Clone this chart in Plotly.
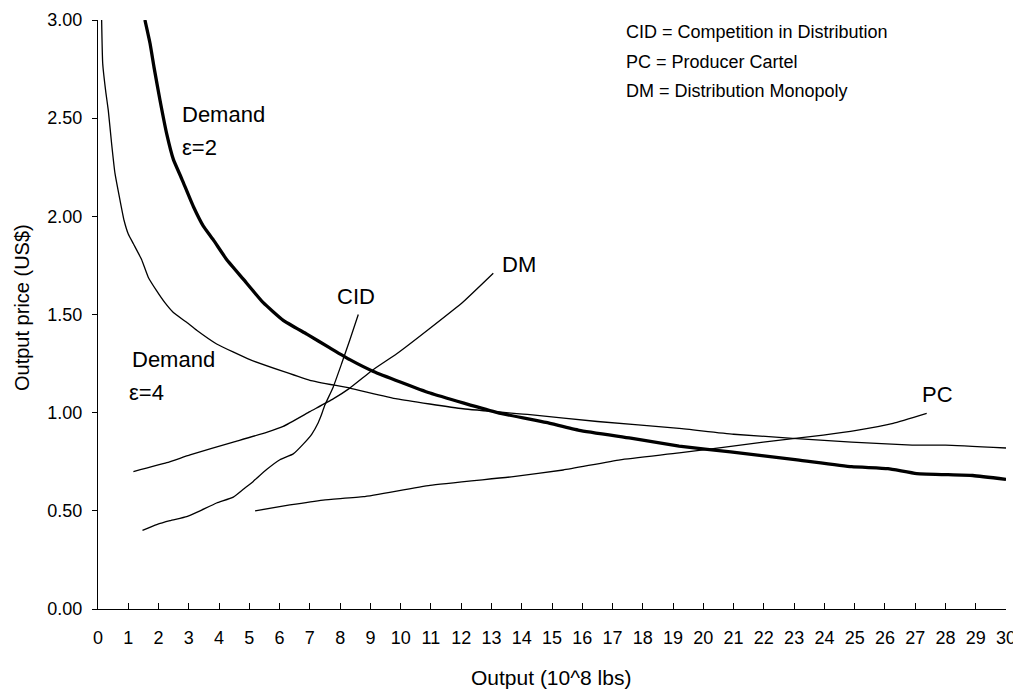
import plotly.graph_objects as go

# Demand, elasticity 2 (thick)
d2_x = [1.55, 1.72, 1.85, 2.05, 2.27, 2.49, 2.77, 3.15, 3.48, 3.81, 4.25, 4.8, 5.46, 6.12, 6.9, 7.66, 8.32, 9.1, 10.97, 13.2, 14.8, 15.9, 17.6, 19.2, 20.9, 23.1, 24.9, 26.1, 27.05, 28.9, 30.0]
d2_y = [3.00, 2.88, 2.76, 2.59, 2.42, 2.29, 2.19, 2.05, 1.95, 1.88, 1.78, 1.68, 1.56, 1.47, 1.40, 1.33, 1.27, 1.21, 1.10, 1.00, 0.95, 0.91, 0.87, 0.83, 0.80, 0.76, 0.725, 0.715, 0.69, 0.68, 0.66]

# Demand, elasticity 4 (thin)
d4_x = [0.12, 0.155, 0.26, 0.34, 0.45, 0.56, 0.73, 0.86, 1.0, 1.17, 1.44, 1.66, 1.94, 2.21, 2.49, 2.93, 3.26, 3.92, 5.02, 6.12, 7.0, 8.32, 9.88, 12.06, 14.27, 16.5, 19.2, 21.0, 24.9, 26.9, 28.0, 30.0]
d4_y = [3.00, 2.78, 2.63, 2.54, 2.37, 2.22, 2.08, 1.98, 1.91, 1.86, 1.78, 1.69, 1.62, 1.56, 1.51, 1.46, 1.42, 1.35, 1.27, 1.21, 1.165, 1.125, 1.07, 1.02, 0.99, 0.955, 0.92, 0.89, 0.85, 0.835, 0.835, 0.82]

# Competition in Distribution
cid_x = [1.47, 1.94, 2.38, 2.93, 3.37, 3.92, 4.47, 4.8, 5.13, 5.57, 6.01, 6.45, 6.78, 7.06, 7.28, 7.36, 7.5, 7.77, 8.05, 8.32, 8.6]
cid_y = [0.40, 0.43, 0.45, 0.47, 0.50, 0.54, 0.57, 0.61, 0.65, 0.71, 0.76, 0.79, 0.84, 0.89, 0.95, 0.98, 1.04, 1.13, 1.25, 1.37, 1.50]

# Distribution Monopoly
dm_x = [1.17, 2.27, 3.04, 4.47, 5.57, 6.12, 7.0, 7.77, 8.32, 9.1, 9.87, 10.97, 12.07, 13.06]
dm_y = [0.70, 0.745, 0.785, 0.85, 0.90, 0.93, 1.005, 1.07, 1.125, 1.22, 1.30, 1.43, 1.565, 1.71]

# Producer Cartel
pc_x = [5.19, 6.34, 7.44, 8.77, 10.97, 13.72, 15.37, 17.25, 19.2, 21.98, 23.96, 25.06, 26.27, 27.38]
pc_y = [0.50, 0.53, 0.555, 0.572, 0.63, 0.674, 0.708, 0.76, 0.795, 0.85, 0.886, 0.91, 0.946, 0.997]

x_ticks = list(range(0, 31))
y_ticks = [0.0, 0.5, 1.0, 1.5, 2.0, 2.5, 3.0]

legend_lines = ["CID = Competition in Distribution", "PC = Producer Cartel", "DM = Distribution Monopoly"]

FONT = "Liberation Sans, Arial, sans-serif"
OFF = 8  # page body margin of the HTML page
W, H = 1013, 684
L, T = 98 - OFF, 20 - OFF
R = W + OFF - 1006
B = H + OFF - 609
PW, PH = W - L - R, H - T - B


def px_to_paper(px, py):
    # px, py are positions in the browser window
    return (px - OFF - L) / PW, (H - B - (py - OFF)) / PH


fig = go.Figure()
thin = dict(color="black", width=1.3, shape="spline", smoothing=0.4)
fig.add_trace(go.Scatter(x=d2_x, y=d2_y, mode="lines", line=dict(color="black", width=3.3, shape="spline", smoothing=0.4), name="Demand ε=2"))
fig.add_trace(go.Scatter(x=d4_x, y=d4_y, mode="lines", line=thin, name="Demand ε=4"))
fig.add_trace(go.Scatter(x=cid_x, y=cid_y, mode="lines", line=thin, name="CID"))
fig.add_trace(go.Scatter(x=dm_x, y=dm_y, mode="lines", line=thin, name="DM"))
fig.add_trace(go.Scatter(x=pc_x, y=pc_y, mode="lines", line=thin, name="PC"))


def label(x, y, text, xanchor="left"):
    fig.add_annotation(x=x, y=y, text=text, showarrow=False, xanchor=xanchor, yanchor="middle",
                       font=dict(family=FONT, size=22, color="black"))


label(2.70, 2.52, "Demand")
label(2.70, 2.35, "ε=2")
label(1.05, 1.27, "Demand")
label(0.95, 1.105, "ε=4")
label(8.52, 1.59, "CID", xanchor="center")
label(13.9, 1.755, "DM", xanchor="center")
label(27.73, 1.095, "PC", xanchor="center")

for i, t in enumerate(legend_lines):
    xp, yp = px_to_paper(624, 32 + 29.5 * i)
    fig.add_annotation(xref="paper", yref="paper", x=xp, y=yp,
                       text=t, showarrow=False, xanchor="left", yanchor="middle",
                       font=dict(family=FONT, size=18, color="black"))

# axis titles
xp, yp = px_to_paper(551, 677)
fig.add_annotation(xref="paper", yref="paper", x=xp, y=yp, text="Output (10^8 lbs)", showarrow=False,
                   xanchor="center", yanchor="middle", font=dict(family=FONT, size=21, color="black"))
xp, yp = px_to_paper(22, 308)
fig.add_annotation(xref="paper", yref="paper", x=xp, y=yp, text="Output price (US$)", showarrow=False,
                   textangle=-90, xanchor="center", yanchor="middle", font=dict(family=FONT, size=20, color="black"))

fig.update_layout(
    width=W, height=H,
    margin=dict(l=L, r=R, t=T, b=B, autoexpand=False),
    paper_bgcolor="white", plot_bgcolor="white",
    showlegend=False,
    font=dict(family=FONT, size=18, color="black"),
)
fig.update_xaxes(range=[0, 30], tickvals=x_ticks, ticktext=[str(v) for v in x_ticks],
                 showgrid=False, zeroline=False, showline=True, linecolor="black", linewidth=1,
                 ticks="inside", ticklen=6, tickcolor="black", automargin=False,
                 ticklabelstandoff=12)
fig.update_yaxes(range=[0, 3], tickvals=y_ticks, ticktext=[f"{v:.2f}" for v in y_ticks],
                 showgrid=False, zeroline=False, showline=True, linecolor="black", linewidth=1,
                 ticks="outside", ticklen=5, tickcolor="black", automargin=False,
                 ticklabelstandoff=6)

fig.write_html("out.html")
